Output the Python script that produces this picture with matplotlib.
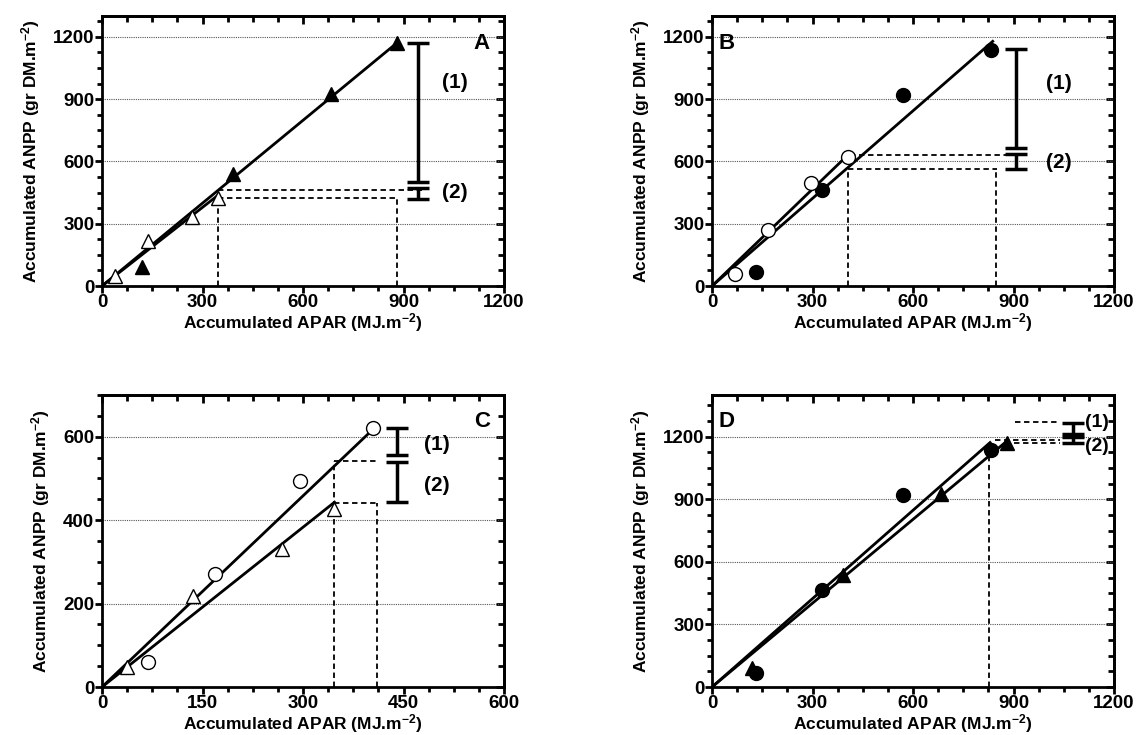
import numpy as np
import matplotlib
matplotlib.use("Agg")
import matplotlib.pyplot as plt
from matplotlib.ticker import MultipleLocator

plt.rcParams['font.family'] = ['Liberation Sans', 'DejaVu Sans']
plt.rcParams['font.weight'] = 'bold'
plt.rcParams['mathtext.fontset'] = 'custom'
plt.rcParams['mathtext.rm'] = 'Liberation Sans:bold'
plt.rcParams['mathtext.bf'] = 'Liberation Sans:bold'
plt.rcParams['mathtext.it'] = 'Liberation Sans:bold'

# --- datos ---
# triangulos rellenos (A y D)
tri_f_x = [120, 390, 685, 882]
tri_f_y = [92, 537, 925, 1168]
# triangulos abiertos (A y C)
tri_o_x = [38, 136, 268, 347]
tri_o_y = [48, 218, 332, 426]
# circulos rellenos (B y D)
cir_f_x = [132, 327, 571, 832]
cir_f_y = [68, 464, 921, 1138]
# circulos abiertos (B y C)
cir_o_x = [68, 168, 296, 405]
cir_o_y = [60, 272, 494, 622]

# rectas de ajuste (extremo final, todas parten del origen)
fit_A = {'tri_f': (880, 1170), 'tri_o': (347, 438)}
fit_B = {'cir_f': (838, 1178), 'cir_o': (407, 633)}
fit_C = {'cir_o': (402, 614), 'tri_o': (347, 443)}
fit_D = {'cir_f': (830, 1172), 'tri_f': (875, 1172)}

# lineas discontinuas: (x0, x1, y0, y1)
dash_A = [(347, 347, 0, 430), (880, 880, 0, 424), (347, 880, 424, 424), (347, 955, 461, 461)]
dash_B = [(407, 407, 0, 565), (848, 848, 0, 565), (407, 851, 565, 565), (412, 878, 633, 633)]
dash_C = [(347, 347, 0, 542), (410, 410, 0, 442), (347, 410, 542, 542), (347, 410, 442, 442)]
dash_D = [(828, 828, 0, 1150), (905, 1040, 1270, 1270), (845, 1040, 1186, 1186), (875, 1040, 1170, 1170)]

# barras (1) y (2): x, y_bajo, y_alto
bars_A = [(942, 500, 1168), (942, 419, 472)]
bars_B = [(908, 663, 1139), (908, 561, 637)]
bars_C = [(440, 557, 620), (440, 443, 539)]
bars_D = [(1078, 1213, 1268), (1078, 1168, 1200)]

# etiquetas (1), (2)
lab_A = [(1053, 982), (1053, 448)]
lab_B = [(1035, 974), (1035, 594)]
lab_C = [(500, 581), (500, 482)]
lab_D = [(1150, 1268), (1150, 1155)]

fig = plt.figure(figsize=(11.4, 7.35), dpi=100)
W, H = 1140, 735


def make_ax(left, right, top, bottom):
    return fig.add_axes([left / W, 1 - bottom / H, (right - left) / W, (bottom - top) / H])


def style(ax, xmax, xmaj, ymax, ymaj, letter, letter_pos):
    ax.set_xlim(0, xmax)
    ax.set_ylim(0, ymax)
    xt = np.arange(0, xmax + 1, xmaj)
    yt = np.arange(0, ymax + 1, ymaj)
    ax.set_xticks(xt)
    ax.set_yticks(yt)
    ax.xaxis.set_minor_locator(MultipleLocator(xmaj / 4))
    ax.yaxis.set_minor_locator(MultipleLocator(ymaj / 4))
    ax.tick_params(which='major', direction='out', length=5, width=2, labelsize=13.5, pad=0.5)
    ax.tick_params(which='minor', direction='out', length=3.5, width=2)
    for s in ax.spines.values():
        s.set_linewidth(2)
    ax.yaxis.grid(True, which='major', color='#555555', linestyle=(0, (1, 1)), linewidth=0.8)
    ax.set_axisbelow(True)
    # marcas hacia dentro arriba y a la derecha
    top_ax = ax.secondary_xaxis('top')
    top_ax.set_xticks(xt)
    top_ax.xaxis.set_minor_locator(MultipleLocator(xmaj / 4))
    top_ax.tick_params(which='major', direction='in', length=6, width=2, labeltop=False)
    top_ax.tick_params(which='minor', direction='in', length=4, width=2)
    top_ax.spines['top'].set_linewidth(2)
    right_ax = ax.secondary_yaxis('right')
    right_ax.set_yticks(yt)
    right_ax.yaxis.set_minor_locator(MultipleLocator(ymaj / 4))
    right_ax.tick_params(which='major', direction='in', length=6, width=2, labelright=False)
    right_ax.tick_params(which='minor', direction='in', length=4, width=2)
    right_ax.spines['right'].set_linewidth(2)
    for lab in ax.get_xticklabels() + ax.get_yticklabels():
        lab.set_fontweight('bold')
    ax.set_xlabel(r'Accumulated APAR (MJ.m$^{-2}$)', fontsize=12.5, fontweight='bold', labelpad=0)
    ax.set_ylabel(r'Accumulated ANPP (gr DM.m$^{-2}$)', fontsize=12.5, fontweight='bold', labelpad=8)
    ha = 'left' if letter_pos[0] < 0.5 else 'center'
    ax.text(letter_pos[0], letter_pos[1], letter, transform=ax.transAxes, fontsize=16,
            fontweight='bold', ha=ha, va='center')


def draw_fit(ax, end):
    ax.plot([0, end[0]], [0, end[1]], color='black', lw=2, zorder=3)


def draw_dash(ax, segs):
    for x0, x1, y0, y1 in segs:
        ax.plot([x0, x1], [y0, y1], color='black', lw=1.3, linestyle=(0, (3, 2)), zorder=2)


def draw_bars(ax, bars, labs, fs=15):
    for x, lo, hi in bars:
        ax.errorbar([x], [(lo + hi) / 2], yerr=[[(hi - lo) / 2], [(hi - lo) / 2]], fmt='none',
                    ecolor='black', elinewidth=2.5, capsize=8, capthick=2.5, zorder=4)
    for (x, y), t in zip(labs, ['(1)', '(2)']):
        ax.text(x, y, t, fontsize=fs, fontweight='bold', ha='center', va='center', clip_on=False)


ms = 10
# --- A ---
axA = make_ax(102, 504, 16, 286)
style(axA, 1200, 300, 1300, 300, 'A', (0.945, 0.90))
draw_dash(axA, dash_A)
draw_fit(axA, fit_A['tri_f'])
draw_fit(axA, fit_A['tri_o'])
axA.plot(tri_f_x, tri_f_y, '^', color='black', ms=ms, zorder=5)
axA.plot(tri_o_x, tri_o_y, '^', mfc='white', mec='black', mew=1, ms=ms, zorder=5)
draw_bars(axA, bars_A, lab_A)

# --- B ---
axB = make_ax(712, 1114, 16, 286)
style(axB, 1200, 300, 1300, 300, 'B', (0.015, 0.90))
draw_dash(axB, dash_B)
draw_fit(axB, fit_B['cir_f'])
draw_fit(axB, fit_B['cir_o'])
axB.plot(cir_f_x, cir_f_y, 'o', color='black', ms=ms, zorder=5)
axB.plot(cir_o_x, cir_o_y, 'o', mfc='white', mec='black', mew=1, ms=ms, zorder=5)
draw_bars(axB, bars_B, lab_B)

# --- C ---
axC = make_ax(102, 504, 395, 687)
style(axC, 600, 150, 700, 200, 'C', (0.945, 0.91))
draw_dash(axC, dash_C)
draw_fit(axC, fit_C['cir_o'])
draw_fit(axC, fit_C['tri_o'])
axC.plot(cir_o_x, cir_o_y, 'o', mfc='white', mec='black', mew=1, ms=ms, zorder=5)
axC.plot(tri_o_x, tri_o_y, '^', mfc='white', mec='black', mew=1, ms=ms, zorder=5)
draw_bars(axC, bars_C, lab_C)

# --- D ---
axD = make_ax(712, 1114, 395, 687)
style(axD, 1200, 300, 1400, 300, 'D', (0.015, 0.91))
draw_dash(axD, dash_D)
draw_fit(axD, fit_D['cir_f'])
draw_fit(axD, fit_D['tri_f'])
axD.plot(cir_f_x, cir_f_y, 'o', color='black', ms=ms, zorder=5)
axD.plot(tri_f_x, tri_f_y, '^', color='black', ms=ms, zorder=5)
draw_bars(axD, bars_D, lab_D, fs=14)

fig.savefig('out.png', dpi=100)
